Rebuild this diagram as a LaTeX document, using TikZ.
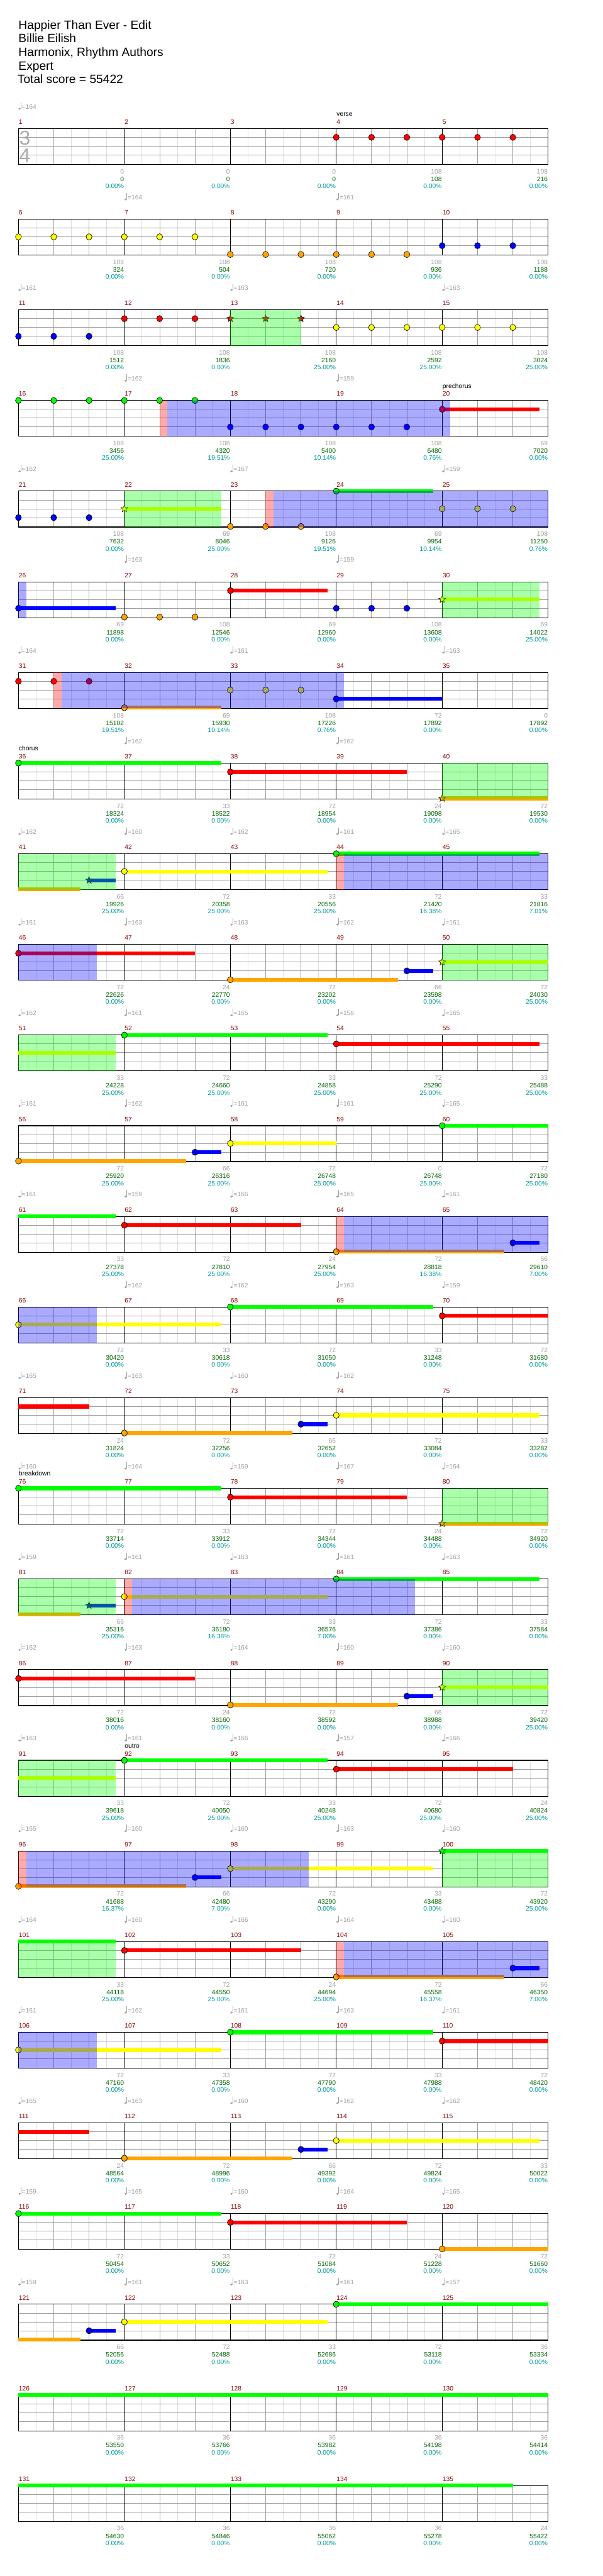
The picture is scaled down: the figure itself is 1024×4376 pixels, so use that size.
\documentclass[tikz,border=0pt]{standalone}
\usepackage{fontspec}
\setmainfont{Liberation Sans}
\usetikzlibrary{shapes.geometric}

\definecolor{ng}{RGB}{0,255,0}
\definecolor{nr}{RGB}{255,0,0}
\definecolor{ny}{RGB}{255,255,0}
\definecolor{nb}{RGB}{0,0,255}
\definecolor{no}{RGB}{255,165,0}
\definecolor{gridgray}{RGB}{160,160,160}
\definecolor{lightgrid}{RGB}{222,222,222}
\definecolor{mnumcol}{RGB}{139,0,0}
\definecolor{labgray}{RGB}{160,160,160}
\definecolor{labgreen}{RGB}{0,100,0}
\definecolor{labteal}{RGB}{0,153,153}
\definecolor{tsig}{RGB}{170,170,170}

\def\laneg{0}\def\laner{15}\def\laney{30}\def\laneb{45}\def\laneo{60}

\tikzset{
  smalltext/.style={inner sep=0pt, font=\fontsize{11}{11}\selectfont},
  lab/.style={smalltext, anchor=base east},
  mnumstyle/.style={smalltext, anchor=base west, text=mnumcol},
  tempostyle/.style={smalltext, anchor=base west, text=labgray},
  sectstyle/.style={smalltext, anchor=base west, text=black},
  titlestyle/.style={inner sep=0pt, anchor=base west, font=\fontsize{20.5}{20.5}\selectfont},
  notestyle/.style={draw=black, line width=0.7pt},
}

\newcommand\rowinit[1]{\pgfmathsetmacro\rtop{218.3+154*(#1-1)}\pgfmathtruncatemacro\rfirst{5*(#1-1)+1}}

\newcommand\staff{%
  \foreach \k in {1,3,...,29} \draw[lightgrid, line width=0.8pt] ({31.3+30*\k},\rtop) -- ++(0,61);
  \foreach \k in {1,2,4,5,7,8,10,11,13,14} \draw[gridgray, line width=0.9pt] ({31.3+60*\k},\rtop) -- ++(0,61);
  \foreach \d in {15,30,45} \draw[gridgray, line width=0.9pt] (31.3,{\rtop+\d}) -- (931.3,{\rtop+\d});
  \foreach \k in {1,2,3,4} \draw[black, line width=0.9pt] ({31.3+180*\k},\rtop) -- ++(0,61);
  \draw[black, line width=1.2pt] (31.3,\rtop) rectangle (931.3,{\rtop+61});
  \foreach \k in {0,...,4} {\pgfmathtruncatemacro\mn{\rfirst+\k}
    \node[mnumstyle] at ({31.3+180*\k+0.5},{\rtop-7.3}) {\mn};}
}

\newcommand\labs[1]{%
  \foreach \a/\b/\c [count=\j] in {#1} {
    \node[lab, text=labgray] at ({31.3+180*\j-0.5},{\rtop+76.7}) {\a};
    \node[lab, text=labgreen] at ({31.3+180*\j-0.5},{\rtop+89.7}) {\b};
    \node[lab, text=labteal] at ({31.3+180*\j-0.5},{\rtop+101.7}) {\c\%};
  }}

\newcommand\tempo[2]{%
  \fill[labgray] ({31.3+60*#1+2},{\rtop-33.6}) ellipse[x radius=2.1pt, y radius=1.7pt];
  \draw[labgray, line width=0.8pt] ({31.3+60*#1+3.9},{\rtop-33.6}) -- ++(0,-11);
  \node[tempostyle] at ({31.3+60*#1+5.4},{\rtop-33.3}) {=#2};}

\newcommand\sect[2]{\node[sectstyle] at ({31.3+60*#1+0.5},{\rtop-21}) {#2};}

\newcommand\nt[2]{\draw[notestyle, fill=n#2] ({31.3+60*#1},{\rtop+\csname lane#2\endcsname}) ellipse[x radius=5pt, y radius=5.3pt];}
\newcommand\st[2]{\node[star, star points=5, star point ratio=2.3, minimum size=12.5pt, inner sep=0pt, draw=black, line width=0.6pt, fill=n#2] at ({31.3+60*#1},{\rtop+\csname lane#2\endcsname}) {};}
\newcommand\sus[3]{\fill[n#3] ({31.3+60*#1},{\rtop+\csname lane#3\endcsname-3.3}) rectangle ({31.3+60*#2},{\rtop+\csname lane#3\endcsname+3.3});}

\newcommand\gz[2]{\fill[ng, opacity=0.333] ({31.3+60*#1},\rtop) rectangle ({31.3+60*#2},{\rtop+61});}
\newcommand\bz[2]{\fill[nb, opacity=0.333] ({31.3+60*#1},\rtop) rectangle ({31.3+60*#2},{\rtop+61});}
\newcommand\ovd[2]{\fill[nr, opacity=0.333] ({31.3+60*#1},\rtop) rectangle ({31.3+60*#1+13.3},{\rtop+61});
  \fill[nb, opacity=0.333] ({31.3+60*#1+13.3},\rtop) rectangle ({31.3+60*#2},{\rtop+61});}

\begin{document}
\begin{tikzpicture}[x=1pt, y=-1pt]
\fill[white] (0,0) rectangle (1024,4376);
\useasboundingbox (0,0) rectangle (1024,4376);

\node[titlestyle] (t1) at (31.3,49.3) {Happier Than Ever - Edit};
\node[titlestyle] (t2) at (31.3,72.4) {Billie Eilish};
\node[titlestyle] (t3) at (31.3,95.5) {Harmonix, Rhythm Authors};
\node[titlestyle] (t4) at (31.3,118.6) {Expert};
\node[titlestyle] (t5) at (29.6,141.7) {Total score = 55422};

% Row 1
\rowinit{1}\staff
\node[inner sep=0pt, anchor=base, text=tsig, font=\fontsize{34}{34}\selectfont] (ts3) at (42.3,{\rtop+28.4}) {3};
\node[inner sep=0pt, anchor=base, text=tsig, font=\fontsize{34}{34}\selectfont] (ts4) at (42.3,{\rtop+57.4}) {4};
\tempo{0}{164}\sect{9}{verse}
\nt{9}{r}\nt{10}{r}\nt{11}{r}\nt{12}{r}\nt{13}{r}\nt{14}{r}
\labs{0/0/0.00,0/0/0.00,0/0/0.00,108/108/0.00,108/216/0.00}

% Row 2
\rowinit{2}\staff
\tempo{3}{164}\tempo{9}{161}
\nt{0}{y}\nt{1}{y}\nt{2}{y}\nt{3}{y}\nt{4}{y}\nt{5}{y}
\nt{6}{o}\nt{7}{o}\nt{8}{o}\nt{9}{o}\nt{10}{o}\nt{11}{o}
\nt{12}{b}\nt{13}{b}\nt{14}{b}
\labs{108/324/0.00,108/504/0.00,108/720/0.00,108/936/0.00,108/1188/0.00}

% Row 3
\rowinit{3}\staff
\tempo{0}{161}\tempo{6}{163}\tempo{12}{163}
\nt{0}{b}\nt{1}{b}\nt{2}{b}\nt{3}{r}\nt{4}{r}\nt{5}{r}
\st{6}{r}\st{7}{r}\st{8}{r}
\nt{9}{y}\nt{10}{y}\nt{11}{y}\nt{12}{y}\nt{13}{y}\nt{14}{y}
\gz{6}{8}
\labs{108/1512/0.00,108/1836/0.00,108/2160/25.00,108/2592/25.00,108/3024/25.00}

% Row 4
\rowinit{4}\staff
\tempo{3}{162}\tempo{9}{159}\sect{12}{prechorus}
\nt{0}{g}\nt{1}{g}\nt{2}{g}\nt{3}{g}\nt{4}{g}\nt{5}{g}
\nt{6}{b}\nt{7}{b}\nt{8}{b}\nt{9}{b}\nt{10}{b}\nt{11}{b}
\sus{12}{14.75}{r}\nt{12}{r}
\ovd{4}{12.2222}
\labs{108/3456/25.00,108/4320/19.51,108/5400/10.14,108/6480/0.76,69/7020/0.00}

% Row 5
\rowinit{5}\staff
\tempo{0}{162}\tempo{6}{167}\tempo{12}{159}
\nt{0}{b}\nt{1}{b}\nt{2}{b}
\sus{3}{5.75}{y}\st{3}{y}
\nt{6}{o}\nt{7}{o}\nt{8}{o}
\sus{9}{11.75}{g}\nt{9}{g}
\nt{12}{y}\nt{13}{y}\nt{14}{y}
\gz{3}{5.75}\ovd{7}{15}
\labs{108/7632/0.00,69/8046/25.00,108/9126/19.51,69/9954/10.14,108/11250/0.76}

% Row 6
\rowinit{6}\staff
\tempo{3}{163}\tempo{9}{159}
\sus{0}{2.75}{b}\nt{0}{b}
\nt{3}{o}\nt{4}{o}\nt{5}{o}
\sus{6}{8.75}{r}\nt{6}{r}
\nt{9}{b}\nt{10}{b}\nt{11}{b}
\sus{12}{14.75}{y}\st{12}{y}
\bz{0}{0.2222}\gz{12}{14.75}
\labs{69/11898/0.00,108/12546/0.00,69/12960/0.00,108/13608/0.00,69/14022/25.00}

% Row 7
\rowinit{7}\staff
\tempo{0}{164}\tempo{6}{161}\tempo{12}{163}
\nt{0}{r}\nt{1}{r}\nt{2}{r}
\sus{3}{5.75}{o}\nt{3}{o}
\nt{6}{y}\nt{7}{y}\nt{8}{y}
\sus{9}{12}{b}\nt{9}{b}
\ovd{1}{9.2222}
\labs{108/15102/19.51,69/15930/10.14,108/17226/0.76,72/17892/0.00,0/17892/0.00}

% Row 8
\rowinit{8}\staff
\tempo{3}{162}\tempo{9}{162}\sect{0}{chorus}
\sus{0}{5.75}{g}\nt{0}{g}
\sus{6}{11}{r}\nt{6}{r}
\sus{12}{15}{o}\st{12}{o}
\gz{12}{15}
\labs{72/18324/0.00,33/18522/0.00,72/18954/0.00,24/19098/0.00,72/19530/0.00}

% Row 9
\rowinit{9}\staff
\tempo{0}{162}\tempo{3}{160}\tempo{6}{162}\tempo{9}{161}\tempo{12}{165}
\sus{0}{1.75}{o}
\sus{2}{2.75}{b}\st{2}{b}
\sus{3}{8.75}{y}\nt{3}{y}
\sus{9}{14.75}{g}\nt{9}{g}
\gz{0}{2.75}\ovd{9}{15}
\labs{66/19926/25.00,72/20358/25.00,33/20556/25.00,72/21420/16.38,33/21816/7.01}

% Row 10
\rowinit{10}\staff
\tempo{0}{161}\tempo{3}{163}\tempo{6}{163}\tempo{9}{162}\tempo{12}{161}
\sus{0}{5}{r}\nt{0}{r}
\sus{6}{10.75}{o}\nt{6}{o}
\sus{11}{11.75}{b}\nt{11}{b}
\sus{12}{15}{y}\st{12}{y}
\bz{0}{2.2222}\gz{12}{15}
\labs{72/22626/0.00,24/22770/0.00,72/23202/0.00,66/23598/0.00,72/24030/25.00}

% Row 11
\rowinit{11}\staff
\tempo{0}{162}\tempo{3}{161}\tempo{6}{165}\tempo{9}{156}\tempo{12}{165}
\sus{0}{2.75}{y}
\sus{3}{8.75}{g}\nt{3}{g}
\sus{9}{14.75}{r}\nt{9}{r}
\gz{0}{2.75}
\labs{33/24228/25.00,72/24660/25.00,33/24858/25.00,72/25290/25.00,33/25488/25.00}

% Row 12
\rowinit{12}\staff
\tempo{0}{161}\tempo{3}{162}\tempo{6}{161}\tempo{9}{161}\tempo{12}{165}
\sus{0}{4.75}{o}\nt{0}{o}
\sus{5}{5.75}{b}\nt{5}{b}
\sus{6}{9}{y}\nt{6}{y}
\sus{12}{15}{g}\nt{12}{g}
\labs{72/25920/25.00,66/26316/25.00,72/26748/25.00,0/26748/25.00,72/27180/25.00}

% Row 13
\rowinit{13}\staff
\tempo{0}{161}\tempo{3}{159}\tempo{6}{166}\tempo{9}{165}\tempo{12}{161}
\sus{0}{2.75}{g}
\sus{3}{8}{r}\nt{3}{r}
\sus{9}{13.75}{o}\nt{9}{o}
\sus{14}{14.75}{b}\nt{14}{b}
\ovd{9}{15}
\labs{33/27378/25.00,72/27810/25.00,24/27954/25.00,72/28818/16.38,66/29610/7.00}

% Row 14
\rowinit{14}\staff
\tempo{3}{162}\tempo{6}{162}\tempo{9}{163}\tempo{12}{159}
\sus{0}{5.75}{y}\nt{0}{y}
\sus{6}{11.75}{g}\nt{6}{g}
\sus{12}{15}{r}\nt{12}{r}
\bz{0}{2.2222}
\labs{72/30420/0.00,33/30618/0.00,72/31050/0.00,33/31248/0.00,72/31680/0.00}

% Row 15
\rowinit{15}\staff
\tempo{0}{165}\tempo{3}{163}\tempo{6}{160}\tempo{9}{162}
\sus{0}{2}{r}
\sus{3}{7.75}{o}\nt{3}{o}
\sus{8}{8.75}{b}\nt{8}{b}
\sus{9}{14.75}{y}\nt{9}{y}
\labs{24/31824/0.00,72/32256/0.00,66/32652/0.00,72/33084/0.00,33/33282/0.00}

% Row 16
\rowinit{16}\staff
\tempo{0}{160}\tempo{3}{164}\tempo{6}{159}\tempo{9}{167}\tempo{12}{164}\sect{0}{breakdown}
\sus{0}{5.75}{g}\nt{0}{g}
\sus{6}{11}{r}\nt{6}{r}
\sus{12}{15}{o}\st{12}{o}
\gz{12}{15}
\labs{72/33714/0.00,33/33912/0.00,72/34344/0.00,24/34488/0.00,72/34920/0.00}

% Row 17
\rowinit{17}\staff
\tempo{0}{159}\tempo{3}{161}\tempo{6}{163}\tempo{9}{161}\tempo{12}{163}
\sus{0}{1.75}{o}
\sus{2}{2.75}{b}\st{2}{b}
\sus{3}{8.75}{y}\nt{3}{y}
\sus{9}{14.75}{g}\nt{9}{g}
\gz{0}{2.75}\ovd{3}{11.2222}
\labs{66/35316/25.00,72/36180/16.38,33/36576/7.00,72/37386/0.00,33/37584/0.00}

% Row 18
\rowinit{18}\staff
\tempo{0}{162}\tempo{3}{163}\tempo{6}{164}\tempo{9}{160}\tempo{12}{160}
\sus{0}{5}{r}\nt{0}{r}
\sus{6}{10.75}{o}\nt{6}{o}
\sus{11}{11.75}{b}\nt{11}{b}
\sus{12}{15}{y}\st{12}{y}
\gz{12}{15}
\labs{72/38016/0.00,24/38160/0.00,72/38592/0.00,66/38988/0.00,72/39420/25.00}

% Row 19
\rowinit{19}\staff
\tempo{0}{163}\tempo{3}{161}\tempo{6}{166}\tempo{9}{157}\tempo{12}{166}\sect{3}{outro}
\sus{0}{2.75}{y}
\sus{3}{8.75}{g}\nt{3}{g}
\sus{9}{14}{r}\nt{9}{r}
\gz{0}{2.75}
\labs{33/39618/25.00,72/40050/25.00,33/40248/25.00,72/40680/25.00,24/40824/25.00}

% Row 20
\rowinit{20}\staff
\tempo{0}{165}\tempo{3}{160}\tempo{6}{160}\tempo{9}{163}\tempo{12}{160}
\sus{0}{4.75}{o}\nt{0}{o}
\sus{5}{5.75}{b}\nt{5}{b}
\sus{6}{11.75}{y}\nt{6}{y}
\sus{12}{15}{g}\st{12}{g}
\ovd{0}{8.2222}\gz{12}{15}
\labs{72/41688/16.37,66/42480/7.00,72/43290/0.00,33/43488/0.00,72/43920/25.00}

% Row 21
\rowinit{21}\staff
\tempo{0}{164}\tempo{3}{160}\tempo{6}{166}\tempo{9}{164}\tempo{12}{160}
\sus{0}{2.75}{g}
\sus{3}{8}{r}\nt{3}{r}
\sus{9}{13.75}{o}\nt{9}{o}
\sus{14}{14.75}{b}\nt{14}{b}
\gz{0}{2.75}\ovd{9}{15}
\labs{33/44118/25.00,72/44550/25.00,24/44694/25.00,72/45558/16.37,66/46350/7.00}

% Row 22
\rowinit{22}\staff
\tempo{0}{161}\tempo{3}{162}\tempo{6}{161}\tempo{9}{163}\tempo{12}{161}
\sus{0}{5.75}{y}\nt{0}{y}
\sus{6}{11.75}{g}\nt{6}{g}
\sus{12}{15}{r}\nt{12}{r}
\bz{0}{2.2222}
\labs{72/47160/0.00,33/47358/0.00,72/47790/0.00,33/47988/0.00,72/48420/0.00}

% Row 23
\rowinit{23}\staff
\tempo{0}{165}\tempo{3}{163}\tempo{6}{160}\tempo{9}{162}\tempo{12}{162}
\sus{0}{2}{r}
\sus{3}{7.75}{o}\nt{3}{o}
\sus{8}{8.75}{b}\nt{8}{b}
\sus{9}{14.75}{y}\nt{9}{y}
\labs{24/48564/0.00,72/48996/0.00,66/49392/0.00,72/49824/0.00,33/50022/0.00}

% Row 24
\rowinit{24}\staff
\tempo{0}{159}\tempo{3}{165}\tempo{6}{160}\tempo{9}{164}\tempo{12}{165}
\sus{0}{5.75}{g}\nt{0}{g}
\sus{6}{11}{r}\nt{6}{r}
\sus{12}{15}{o}\nt{12}{o}
\labs{72/50454/0.00,33/50652/0.00,72/51084/0.00,24/51228/0.00,72/51660/0.00}

% Row 25
\rowinit{25}\staff
\tempo{0}{159}\tempo{3}{161}\tempo{6}{163}\tempo{9}{161}\tempo{12}{157}
\sus{0}{1.75}{o}
\sus{2}{2.75}{b}\nt{2}{b}
\sus{3}{8.75}{y}\nt{3}{y}
\sus{9}{15}{g}\nt{9}{g}
\labs{66/52056/0.00,72/52488/0.00,33/52686/0.00,72/53118/0.00,36/53334/0.00}

% Row 26
\rowinit{26}\staff
\sus{0}{15}{g}
\labs{36/53550/0.00,36/53766/0.00,36/53982/0.00,36/54198/0.00,36/54414/0.00}

% Row 27
\rowinit{27}\staff
\sus{0}{14}{g}
\labs{36/54630/0.00,36/54846/0.00,36/55062/0.00,36/55278/0.00,24/55422/0.00}

\end{tikzpicture}
\end{document}
